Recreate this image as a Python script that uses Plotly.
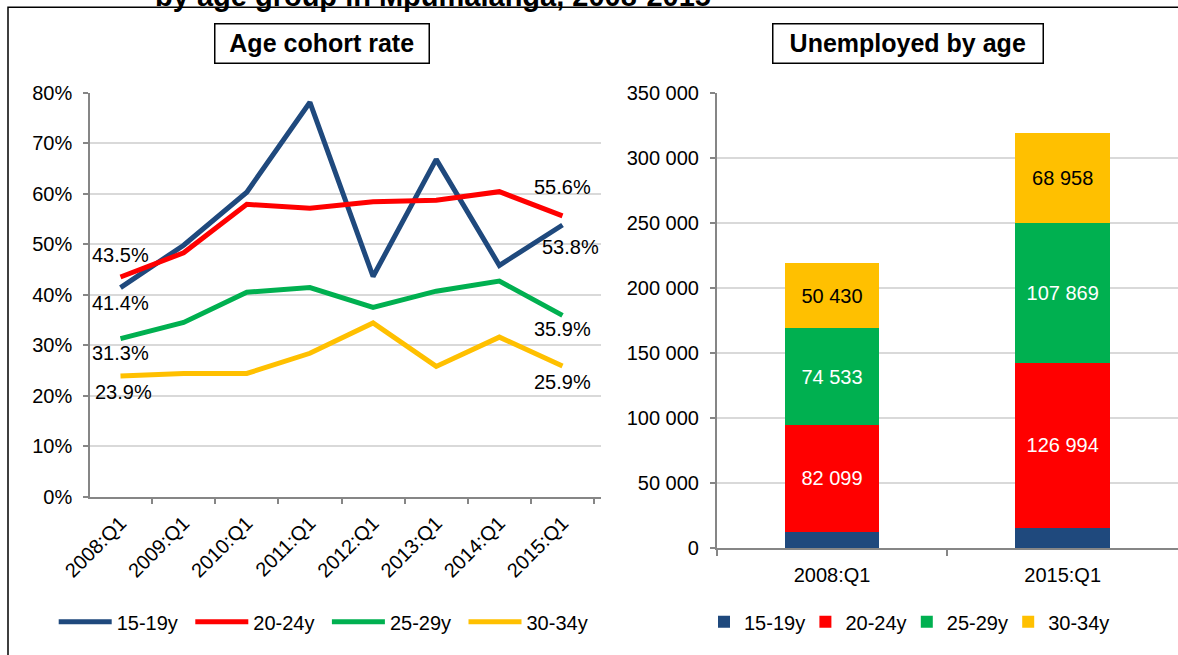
import plotly.graph_objects as go

# ---------------- data ----------------
quarters = ["2008:Q1", "2009:Q1", "2010:Q1", "2011:Q1", "2012:Q1", "2013:Q1", "2014:Q1", "2015:Q1"]
age_groups = ["15-19y", "20-24y", "25-29y", "30-34y"]

rate_15_19 = [41.4, 49.8, 60.3, 78.1, 43.6, 66.8, 45.8, 53.8]
rate_20_24 = [43.5, 48.3, 57.9, 57.1, 58.4, 58.7, 60.4, 55.6]
rate_25_29 = [31.3, 34.5, 40.5, 41.4, 37.5, 40.7, 42.7, 35.9]
rate_30_34 = [23.9, 24.4, 24.4, 28.4, 34.4, 25.8, 31.6, 25.9]

bar_periods = ["2008:Q1", "2015:Q1"]
unemp_15_19 = [12500, 15500]
unemp_20_24 = [82099, 126994]
unemp_25_29 = [74533, 107869]
unemp_30_34 = [50430, 68958]

chart_titles = ["Age cohort rate", "Unemployed by age"]
main_title = "by age group in Mpumalanga, 2008-2015"

# ---------------- styles ----------------
W, H = 1178, 655
FONT = "Liberation Sans, Arial, sans-serif"
colors = ["#1F497D", "#FF0000", "#00B050", "#FFC000"]
bar_text_colors = [None, "white", "white", "black"]
AXIS = "#868686"
GRID = "#D9D9D9"

def px_x(p):
    return p / W

def px_y(p):
    return (H - p) / H

rates = [rate_15_19, rate_20_24, rate_25_29, rate_30_34]
unemp = [unemp_15_19, unemp_20_24, unemp_25_29, unemp_30_34]

fig = go.Figure()

for name, vals, col in zip(age_groups, rates, colors):
    fig.add_trace(go.Scatter(
        x=quarters, y=vals, name=name, mode="lines",
        line=dict(color=col, width=5),
        xaxis="x", yaxis="y", legend="legend", hoverinfo="skip",
    ))

for name, vals, col, tcol in zip(age_groups, unemp, colors, bar_text_colors):
    fig.add_trace(go.Bar(
        x=bar_periods, y=vals, name=name,
        marker=dict(color=col, line=dict(width=0)),
        width=0.41,
        texttemplate="%{y:,.0f}" if tcol else None,
        textposition="inside" if tcol else "none",
        insidetextanchor="middle",
        textangle=0,
        constraintext="none",
        textfont=dict(family=FONT, size=20, color=tcol or "black"),
        xaxis="x2", yaxis="y2", legend="legend2", hoverinfo="skip",
    ))

# data labels on first and last points (offsets in px)
label_offsets = {
    (0, 0): (0, -15), (0, 7): (8, -22),
    (1, 0): (0, 22), (1, 7): (0, 29),
    (2, 0): (0, -14), (2, 7): (0, -14),
    (3, 0): (3, -16), (3, 7): (0, -16),
}
annotations = []
for (si, pi), (dx, dy) in label_offsets.items():
    v = rates[si][pi]
    annotations.append(dict(
        x=quarters[pi], y=v, xref="x", yref="y", text=f"{v:.1f}%",
        showarrow=False, xanchor="center", yanchor="middle",
        xshift=dx, yshift=dy, font=dict(family=FONT, size=20, color="black"),
    ))

# boxed chart titles
for txt, cx in zip(chart_titles, [322, 908]):
    bw = 214 if txt == chart_titles[0] else 270
    annotations.append(dict(
        x=px_x(cx), y=px_y(43.7), xref="paper", yref="paper",
        text=f"<b>{txt}</b>", showarrow=False, xanchor="center", yanchor="middle",
        font=dict(family=FONT, size=25, color="black"),
        bordercolor="black", borderwidth=1.5, borderpad=2, bgcolor="white",
        width=bw - 5.5, height=33.5,
    ))

# cut-off main title at the very top
annotations.append(dict(
    x=px_x(433), y=1 + 4 / H, xref="paper", yref="paper",
    text=f"<b>{main_title}</b>", showarrow=False, xanchor="center", yanchor="middle",
    font=dict(family=FONT, size=29, color="black"),
))

tickfont = dict(family=FONT, size=20, color="black")

fig.update_layout(
    template="none",
    width=W, height=H, autosize=False,
    margin=dict(l=0, r=0, t=0, b=0, pad=0, autoexpand=False),
    paper_bgcolor="white", plot_bgcolor="white",
    separators=". ",
    barmode="stack",
    showlegend=True,
    font=dict(family=FONT, size=20, color="black"),
    xaxis=dict(
        domain=[px_x(90), px_x(601)], type="category", categoryorder="array",
        categoryarray=quarters, tickangle=-45, tickson="boundaries",
        ticks="outside", ticklen=6, tickcolor=AXIS, tickwidth=1.5,
        showline=True, linecolor=AXIS, linewidth=1.5, showgrid=False,
        tickfont=tickfont, anchor="y", fixedrange=True, automargin=False,
        ticklabelstandoff=5,
    ),
    yaxis=dict(
        domain=[px_y(496.7), px_y(92.7)], range=[0, 80], dtick=10, ticksuffix="%",
        ticks="outside", ticklen=5, tickcolor=AXIS, tickwidth=1.5,
        showline=True, linecolor=AXIS, linewidth=1.5,
        showgrid=True, gridcolor=GRID, gridwidth=1.5, zeroline=False,
        tickfont=tickfont, anchor="x", ticklabelstandoff=7, fixedrange=True,
        automargin=False,
    ),
    xaxis2=dict(
        domain=[px_x(716.7), 1.0], type="category", categoryorder="array",
        categoryarray=bar_periods, tickson="boundaries",
        ticks="outside", ticklen=6, tickcolor=AXIS, tickwidth=1.5,
        showline=True, linecolor=AXIS, linewidth=1.5, showgrid=False,
        tickfont=tickfont, anchor="y2", ticklabelstandoff=8, fixedrange=True,
        automargin=False,
    ),
    yaxis2=dict(
        domain=[px_y(548), px_y(93.3)], range=[0, 350000], dtick=50000,
        tickformat=",.0f",
        ticks="outside", ticklen=5, tickcolor=AXIS, tickwidth=1.5,
        showline=True, linecolor=AXIS, linewidth=1.5,
        showgrid=True, gridcolor=GRID, gridwidth=1.5, zeroline=False,
        tickfont=tickfont, anchor="x2", ticklabelstandoff=7, fixedrange=True,
        automargin=False,
    ),
    legend=dict(
        orientation="h", x=px_x(53.7), y=px_y(621.7), xanchor="left", yanchor="middle",
        itemwidth=53, entrywidth=68.6, entrywidthmode="pixels",
        font=dict(family=FONT, size=20, color="black"), bgcolor="rgba(0,0,0,0)",
        borderwidth=0,
        traceorder="normal", itemclick=False, itemdoubleclick=False,
    ),
    legend2=dict(
        orientation="h", x=px_x(704), y=px_y(621.7), xanchor="left", yanchor="middle",
        itemwidth=30, entrywidth=56.4, entrywidthmode="pixels",
        font=dict(family=FONT, size=20, color="black"), bgcolor="rgba(0,0,0,0)",
        borderwidth=0,
        traceorder="normal", itemclick=False, itemdoubleclick=False,
    ),
    annotations=annotations,
    shapes=[dict(
        type="rect", xref="paper", yref="paper",
        x0=px_x(8), x1=1.05, y0=-0.05, y1=px_y(7.3),
        line=dict(color="black", width=1.5), fillcolor="rgba(0,0,0,0)", layer="above",
    )],
)

fig.write_html(
    "out.html",
    config={"displayModeBar": False},
    post_script="document.body.style.margin='0px';document.body.style.overflow='hidden';",
)
